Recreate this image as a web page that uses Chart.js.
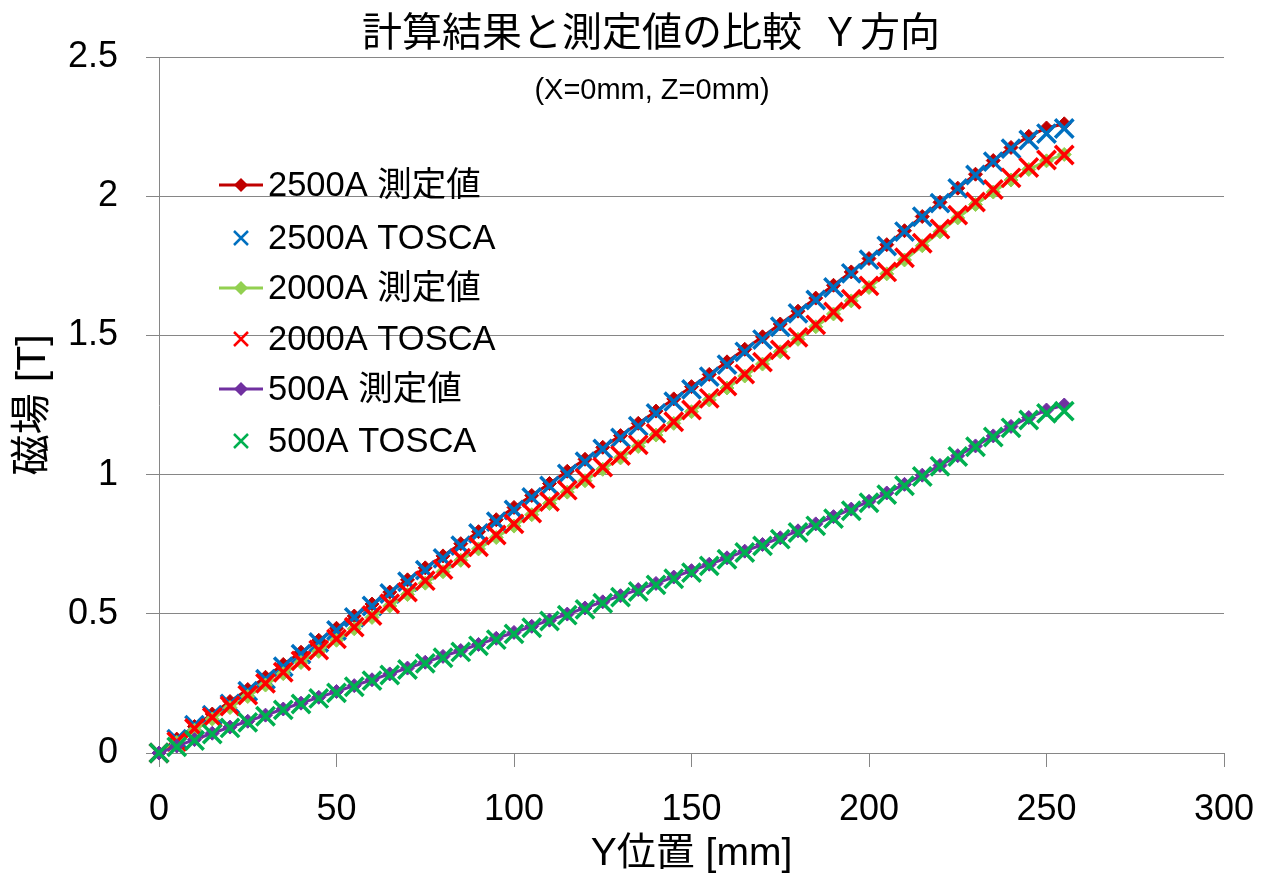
<!DOCTYPE html>
<html>
<head>
<meta charset="utf-8">
<script src="https://cdn.jsdelivr.net/npm/chart.js"></script>
<style>
  html, body { margin: 0; padding: 0; background: #ffffff; }
  #wrap { width: 1268px; height: 881px; }
</style>
</head>
<body>
<div id="wrap"><canvas id="chart" width="1268" height="881"></canvas></div>
<script>
// Y position along the magnet [mm]
const positions = [0, 5, 10, 15, 20, 25, 30, 35, 40, 45, 50, 55, 60, 65, 70, 75, 80, 85, 90, 95,
  100, 105, 110, 115, 120, 125, 130, 135, 140, 145, 150, 155, 160, 165, 170, 175, 180, 185, 190, 195,
  200, 205, 210, 215, 220, 225, 230, 235, 240, 245, 250, 255];

// Magnetic field [T]
const measured2500 = [0, 0.050, 0.095, 0.140, 0.185, 0.228, 0.272, 0.318, 0.362, 0.405, 0.448, 0.492, 0.535, 0.578, 0.622, 0.665, 0.708, 0.752, 0.795, 0.838,
  0.882, 0.925, 0.968, 1.012, 1.055, 1.098, 1.140, 1.184, 1.228, 1.272, 1.316, 1.360, 1.405, 1.450, 1.495, 1.541, 1.587, 1.634, 1.680, 1.728,
  1.776, 1.826, 1.876, 1.927, 1.978, 2.029, 2.079, 2.128, 2.175, 2.215, 2.245, 2.260];
const tosca2500 = [0, 0.050, 0.100, 0.136, 0.176, 0.222, 0.265, 0.310, 0.355, 0.397, 0.440, 0.487, 0.528, 0.573, 0.615, 0.657, 0.699, 0.745, 0.789, 0.831,
  0.873, 0.918, 0.959, 1.002, 1.046, 1.092, 1.132, 1.174, 1.220, 1.262, 1.306, 1.352, 1.395, 1.441, 1.485, 1.531, 1.579, 1.627, 1.672, 1.723,
  1.772, 1.821, 1.873, 1.926, 1.975, 2.028, 2.076, 2.124, 2.171, 2.202, 2.225, 2.243];
const measured2000 = [0, 0.038, 0.082, 0.122, 0.163, 0.203, 0.244, 0.285, 0.325, 0.365, 0.405, 0.446, 0.487, 0.528, 0.569, 0.610, 0.651, 0.692, 0.733, 0.774,
  0.815, 0.856, 0.896, 0.937, 0.978, 1.019, 1.060, 1.101, 1.142, 1.184, 1.226, 1.268, 1.311, 1.354, 1.397, 1.441, 1.486, 1.531, 1.577, 1.624,
  1.672, 1.721, 1.771, 1.822, 1.872, 1.922, 1.970, 2.015, 2.058, 2.096, 2.127, 2.150];
const tosca2000 = [0, 0.041, 0.088, 0.128, 0.169, 0.208, 0.250, 0.290, 0.331, 0.370, 0.410, 0.452, 0.494, 0.536, 0.578, 0.619, 0.659, 0.700, 0.741, 0.783,
  0.823, 0.862, 0.903, 0.944, 0.986, 1.027, 1.068, 1.107, 1.148, 1.190, 1.232, 1.274, 1.318, 1.361, 1.404, 1.448, 1.493, 1.538, 1.584, 1.630,
  1.678, 1.728, 1.779, 1.831, 1.882, 1.932, 1.979, 2.024, 2.066, 2.103, 2.130, 2.148];
const measured500 = [0, 0.025, 0.048, 0.071, 0.093, 0.114, 0.136, 0.158, 0.179, 0.200, 0.221, 0.242, 0.263, 0.284, 0.305, 0.326, 0.347, 0.368, 0.390, 0.412,
  0.433, 0.455, 0.477, 0.499, 0.521, 0.543, 0.565, 0.587, 0.609, 0.632, 0.655, 0.678, 0.701, 0.725, 0.749, 0.773, 0.798, 0.823, 0.849, 0.876,
  0.904, 0.934, 0.965, 0.998, 1.033, 1.068, 1.103, 1.139, 1.173, 1.205, 1.232, 1.250];
const tosca500 = [0, 0.022, 0.045, 0.068, 0.090, 0.110, 0.132, 0.155, 0.176, 0.196, 0.216, 0.238, 0.260, 0.280, 0.300, 0.322, 0.342, 0.363, 0.385, 0.407,
  0.428, 0.450, 0.474, 0.495, 0.516, 0.538, 0.560, 0.580, 0.604, 0.626, 0.648, 0.672, 0.696, 0.720, 0.744, 0.768, 0.792, 0.816, 0.842, 0.870,
  0.899, 0.928, 0.960, 0.993, 1.030, 1.065, 1.100, 1.135, 1.168, 1.196, 1.220, 1.228];

const seriesNames = ['2500A 測定値', '2500A TOSCA', '2000A 測定値', '2000A TOSCA', '500A 測定値', '500A TOSCA'];
const seriesColors = ['#C00000', '#0070C0', '#92D050', '#FF0000', '#7030A0', '#00B050'];
const seriesValues = [measured2500, tosca2500, measured2000, tosca2000, measured500, tosca500];
const seriesIsMeasured = [true, false, true, false, true, false];

const yTicks = [0, 0.5, 1, 1.5, 2, 2.5];
const xTicks = [0, 50, 100, 150, 200, 250, 300];

const titleText = '計算結果と測定値の比較  Ｙ方向';
const subtitleText = '(X=0mm, Z=0mm)';
const xTitle = 'Y位置 [mm]';
const yTitle = '磁場 [T]';

const GRID = '#868686';
const LATIN = "'Liberation Sans', Arial, 'Noto Sans CJK JP', sans-serif";
const CJK = "'Noto Sans CJK JP', 'Liberation Sans', sans-serif";

const datasets = seriesValues.map((vals, i) => {
  const color = seriesColors[i];
  const pts = positions.map((x, k) => ({ x: x, y: vals[k] }));
  const base = {
    label: seriesNames[i],
    data: pts,
    clip: false,
    order: seriesValues.length - i   // later series are painted on top
  };
  if (seriesIsMeasured[i]) {
    return Object.assign(base, {
      showLine: true,
      borderColor: color,
      borderWidth: 3,
      backgroundColor: color,
      pointStyle: 'rectRot',
      pointRadius: 7,
      pointBackgroundColor: color,
      pointBorderColor: color,
      pointBorderWidth: 1,
      tension: 0
    });
  }
  return Object.assign(base, {
    showLine: false,
    borderColor: color,
    backgroundColor: color,
    pointStyle: 'crossRot',
    pointRadius: 13,
    pointBorderColor: color,
    pointBorderWidth: 3.5
  });
});

// Title, subtitle and the in-plot legend
const decorations = {
  id: 'decorations',
  afterDraw(chart) {
    const ctx = chart.ctx;
    ctx.save();
    ctx.fillStyle = '#000000';
    ctx.textBaseline = 'middle';
    ctx.textAlign = 'center';
    ctx.font = '40px ' + CJK;
    ctx.fillText(titleText, 651, 31);
    ctx.font = '29px ' + LATIN;
    ctx.fillText(subtitleText, 652, 91);

    const rowY = [185, 238, 288, 339, 389, 441];
    ctx.textAlign = 'left';
    ctx.font = '34.5px ' + LATIN;
    seriesNames.forEach((name, i) => {
      const y = rowY[i];
      const c = seriesColors[i];
      if (seriesIsMeasured[i]) {
        ctx.strokeStyle = c;
        ctx.lineWidth = 3;
        ctx.beginPath();
        ctx.moveTo(219, y);
        ctx.lineTo(263, y);
        ctx.stroke();
        ctx.fillStyle = c;
        ctx.beginPath();
        ctx.moveTo(241, y - 7);
        ctx.lineTo(248, y);
        ctx.lineTo(241, y + 7);
        ctx.lineTo(234, y);
        ctx.closePath();
        ctx.fill();
      } else {
        ctx.strokeStyle = c;
        ctx.lineWidth = 2.5;
        ctx.beginPath();
        ctx.moveTo(234, y - 7);
        ctx.lineTo(248, y + 7);
        ctx.moveTo(248, y - 7);
        ctx.lineTo(234, y + 7);
        ctx.stroke();
      }
      ctx.fillStyle = '#000000';
      ctx.fillText(name, 268, y + 1);
    });
    ctx.restore();
  }
};

new Chart(document.getElementById('chart'), {
  type: 'scatter',
  data: { datasets: datasets },
  plugins: [decorations],
  options: {
    responsive: false,
    animation: false,
    devicePixelRatio: 1,
    layout: { padding: { left: 0, top: 57, right: 44, bottom: 0 } },
    plugins: {
      legend: { display: false },
      title: { display: false },
      tooltip: { enabled: false }
    },
    scales: {
      x: {
        type: 'linear',
        min: 0,
        max: 300,
        afterBuildTicks(scale) { scale.ticks = xTicks.map(v => ({ value: v })); },
        afterFit(scale) {
          scale.height = 128;
          scale.paddingLeft = 0;
          scale.paddingRight = 0;
        },
        ticks: {
          color: '#000000',
          font: { family: LATIN, size: 36 },
          padding: 21,
          maxRotation: 0,
          callback: (v) => String(v)
        },
        grid: {
          drawOnChartArea: false,
          drawTicks: true,
          tickLength: 14,
          tickColor: GRID,
          color: GRID,
          lineWidth: 1
        },
        border: { display: true, color: GRID, width: 1 },
        title: {
          display: true,
          text: xTitle,
          color: '#000000',
          font: { family: LATIN, size: 39 },
          padding: { top: 0, bottom: 3 }
        }
      },
      y: {
        type: 'linear',
        min: 0,
        max: 2.5,
        afterBuildTicks(scale) { scale.ticks = yTicks.map(v => ({ value: v })); },
        afterFit(scale) {
          scale.width = 159;
          scale.paddingTop = 0;
          scale.paddingBottom = 0;
        },
        ticks: {
          color: '#000000',
          font: { family: LATIN, size: 36 },
          padding: 28,
          callback: (v) => String(v)
        },
        grid: {
          drawOnChartArea: true,
          drawTicks: true,
          tickLength: 13,
          tickColor: GRID,
          color: GRID,
          lineWidth: 1
        },
        border: { display: true, color: GRID, width: 1 },
        title: {
          display: true,
          text: yTitle,
          color: '#000000',
          font: { family: LATIN, size: 41 },
          padding: { top: 9, bottom: 0 }
        }
      }
    }
  }
});
</script>
</body>
</html>
